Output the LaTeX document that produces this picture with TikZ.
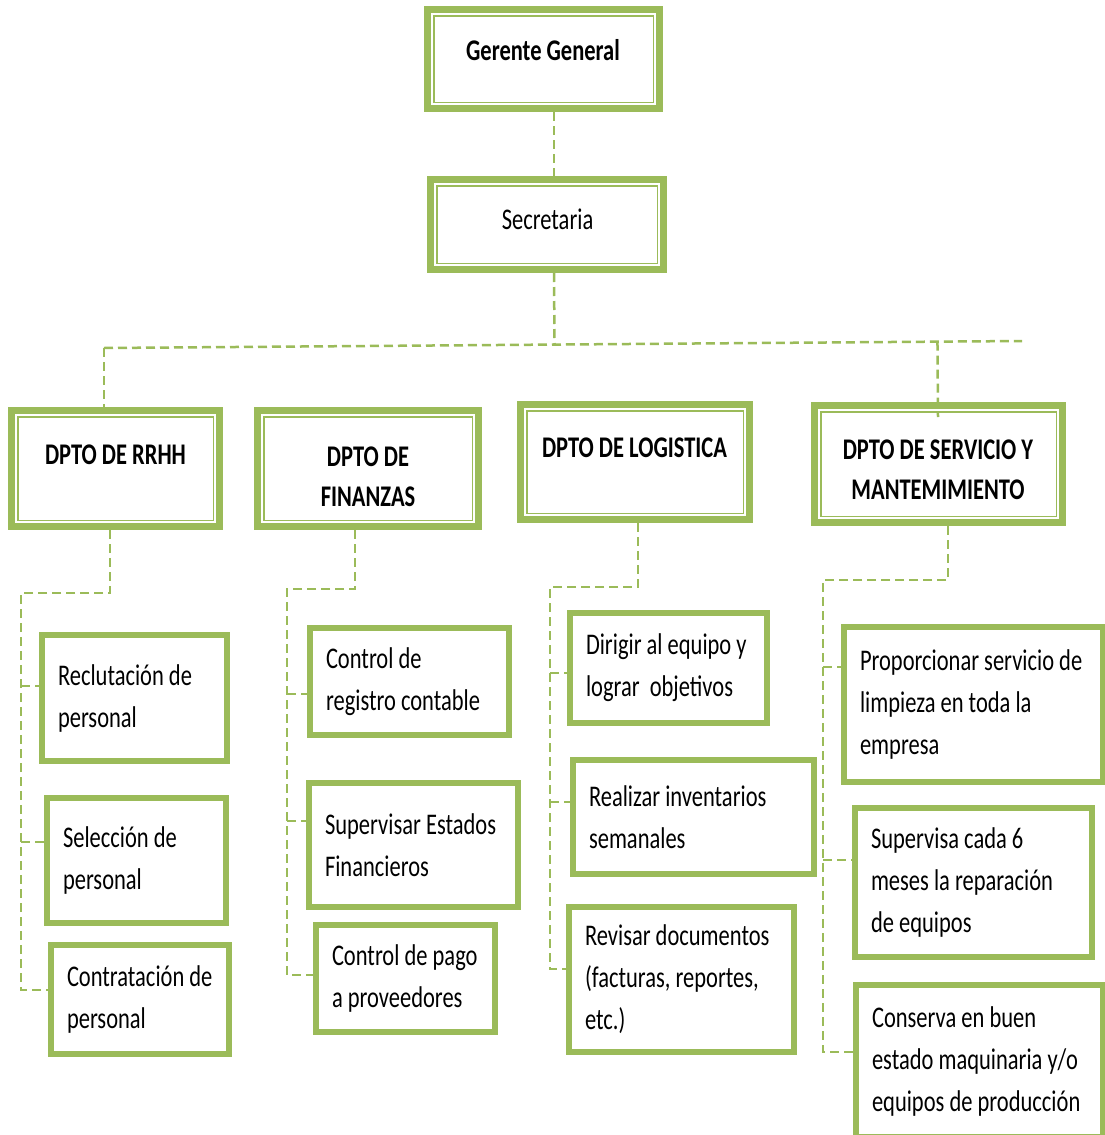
\documentclass[tikz,border=0pt]{standalone}
\usepackage{fontspec}
\setmainfont{Carlito}[FakeStretch=0.75]
\usetikzlibrary{calc}
\definecolor{leaf}{HTML}{9BBB59}
\newcommand\txtfont{\fontsize{30}{42}\selectfont}
\newcommand\hdfont{\fontsize{30}{40}\selectfont\bfseries}
% one line of box text, set with the font's own word spacing
\newcommand\boxline[1]{\mbox{\spaceskip=0pt\xspaceskip=0pt\relax #1}}

\tikzset{
  conn/.style={draw=leaf, line width=2.5pt, dash pattern=on 9pt off 5pt},
  headbox/.style={draw=leaf, fill=white, line width=7pt, inner sep=0pt},
  innerline/.style={draw=leaf, line width=1.6pt},
  title/.style={font=\hdfont, align=center, inner sep=0pt},
  plain/.style={font=\txtfont, align=center, inner sep=0pt},
  taskbox/.style={draw=leaf, fill=white, line width=6pt, inner xsep=16pt,
    inner ysep=0pt, align=left, font=\txtfont},
}

\begin{document}
\begin{tikzpicture}[x=1pt, y=-1pt]
\fill[white] (0,0) rectangle (1105,1135);
\useasboundingbox (0,0) rectangle (1105,1135);

% ---------- head boxes ----------
\node[headbox, minimum width=232pt, minimum height=99pt] (ger) at (543.5,59) {};
\node[headbox, minimum width=233pt, minimum height=90pt] (sec) at (547,224.5) {};
\node[headbox, minimum width=208pt, minimum height=116pt] (rrhh) at (115.5,468.5) {};
\node[headbox, minimum width=221pt, minimum height=116pt] (fin) at (368,468.5) {};
\node[headbox, minimum width=229pt, minimum height=115pt] (log) at (635,462) {};
\node[headbox, minimum width=248pt, minimum height=117pt] (serv) at (938.5,464) {};

% inner frame of the double-bordered boxes (anchors sit on the outer edge)
\foreach \hb in {ger,sec,rrhh,fin,log,serv}
  \draw[innerline] ($(\hb.north west)+(9.7,9.7)$) rectangle ($(\hb.south east)+(-9.7,-9.7)$);

% ---------- connectors between the head boxes ----------
\coordinate (trunk) at (554,0);
\coordinate (bus-l) at (104,348);
\coordinate (bus-r) at (1022,341);
\coordinate (serv-x) at (938,0);

\draw[conn] (ger.south -| trunk) -- (sec.north -| trunk);
\draw[conn] (sec.south -| trunk) -- ($(bus-l)!(sec.south -| trunk)!(bus-r)$);
\draw[conn] (bus-l) -- (bus-r);
\draw[conn] (bus-l) -- (rrhh.north -| bus-l);
\draw[conn] ($(bus-l)!(serv.north -| serv-x)!(bus-r)$) -- ($(serv.north -| serv-x)+(0,15)$);

% ---------- task boxes ----------
\node[taskbox, text width=153pt, minimum height=126pt] (recl) at (134.5,698)
  {\boxline{Reclutación de}\\\boxline{personal}};
\node[taskbox, text width=147pt, minimum height=125pt] (selec) at (136.5,860.5)
  {\boxline{Selección de}\\\boxline{personal}};
\node[taskbox, text width=146pt, minimum height=109pt] (contr) at (140,999.5)
  {\boxline{Contratación de}\\\boxline{personal}};

\node[taskbox, text width=167pt, minimum height=107pt] (creg) at (409.5,681.5)
  {\boxline{Control de}\\\boxline{registro contable}};
\node[taskbox, text width=177pt, minimum height=124pt] (supest) at (413.5,845)
  {\boxline{Supervisar Estados}\\\boxline{Financieros}};
\node[taskbox, text width=147pt, minimum height=107pt] (cpago) at (405.5,978.5)
  {\boxline{Control de pago}\\\boxline{a proveedores}};

\node[taskbox, text width=165pt, minimum height=110pt] (dirig) at (668.5,668)
  {\boxline{Dirigir al equipo y}\\\boxline{lograr \ objetivos}};
\node[taskbox, text width=209pt, minimum height=114pt] (real) at (693.5,817)
  {\boxline{Realizar inventarios}\\\boxline{semanales}};
\node[taskbox, text width=193pt, minimum height=145pt] (rev) at (681.5,979.5)
  {\boxline{Revisar documentos}\\\boxline{(facturas, reportes,}\\\boxline{etc.)}};

\node[taskbox, text width=227pt, minimum height=155pt] (prop) at (973.5,704.5)
  {\boxline{Proporcionar servicio de}\\\boxline{limpieza en toda la}\\\boxline{empresa}};
\node[taskbox, text width=205pt, minimum height=149pt] (sup) at (973.5,882.5)
  {\boxline{Supervisa cada 6}\\\boxline{meses la reparación}\\\boxline{de equipos}};
\node[taskbox, text width=215pt, minimum height=152pt] (cons) at (979.5,1061)
  {\boxline{Conserva en buen}\\\boxline{estado maquinaria y/o}\\\boxline{equipos de producción}};

% entry points of the side connectors
\coordinate (recl-in) at ($(recl.west)+(0,-12)$);
\coordinate (selec-in) at ($(selec.west)+(0,-18.5)$);
\coordinate (contr-in) at ($(contr.west)+(0,-9.5)$);
\coordinate (creg-in) at ($(creg.west)+(0,12.5)$);
\coordinate (supest-in) at ($(supest.west)+(0,-24)$);
\coordinate (cpago-in) at ($(cpago.west)+(0,-3.5)$);
\coordinate (dirig-in) at ($(dirig.west)+(0,5)$);
\coordinate (real-in) at ($(real.west)+(0,-15)$);
\coordinate (rev-in) at ($(rev.west)+(0,-10.5)$);
\coordinate (prop-in) at ($(prop.west)+(0,-37.5)$);
\coordinate (sup-in) at ($(sup.west)+(0,-22.5)$);
\coordinate (cons-in) at ($(cons.west)+(0,-9)$);

% drop points and rails of each department
\coordinate (rrhh-drop) at (110,593);  \coordinate (rrhh-rail) at (21,593);
\coordinate (fin-drop) at (355,589);   \coordinate (fin-rail) at (287,589);
\coordinate (log-drop) at (638,587);   \coordinate (log-rail) at (550,587);
\coordinate (serv-drop) at (948,580);  \coordinate (serv-rail) at (823,580);

% ---------- head box text ----------
\node[plain, font=\hdfont] (ger-t) at (543,50.5) {Gerente General};
\node[plain] (sec-t) at (547.5,219) {Secretaria};
\node[title] (rrhh-t) at (115.5,455) {DPTO DE RRHH};
\node[title] (fin-t) at (368,476.5) {DPTO DE\\FINANZAS};
\node[title] (log-t) at (634.5,448) {DPTO DE LOGISTICA};
\node[title] (serv-t) at (938,470) {DPTO DE SERVICIO Y\\MANTEMIMIENTO};

% ---------- department branches ----------
\draw[conn] (rrhh.south -| rrhh-drop) -- (rrhh-drop) -- (rrhh-rail) |- (contr-in);
\draw[conn] (recl-in -| rrhh-rail) -- (recl-in);
\draw[conn] (selec-in -| rrhh-rail) -- (selec-in);

\draw[conn] (fin.south -| fin-drop) -- (fin-drop) -- (fin-rail) |- (cpago-in);
\draw[conn] (creg-in -| fin-rail) -- (creg-in);
\draw[conn] (supest-in -| fin-rail) -- (supest-in);

\draw[conn] (log.south -| log-drop) -- (log-drop) -- (log-rail) |- (rev-in);
\draw[conn] (dirig-in -| log-rail) -- (dirig-in);
\draw[conn] (real-in -| log-rail) -- (real-in);

\draw[conn] (serv.south -| serv-drop) -- (serv-drop) -- (serv-rail) |- (cons-in);
\draw[conn] (prop-in -| serv-rail) -- (prop-in);
\draw[conn] (sup-in -| serv-rail) -- (sup-in);
\end{tikzpicture}
\end{document}
